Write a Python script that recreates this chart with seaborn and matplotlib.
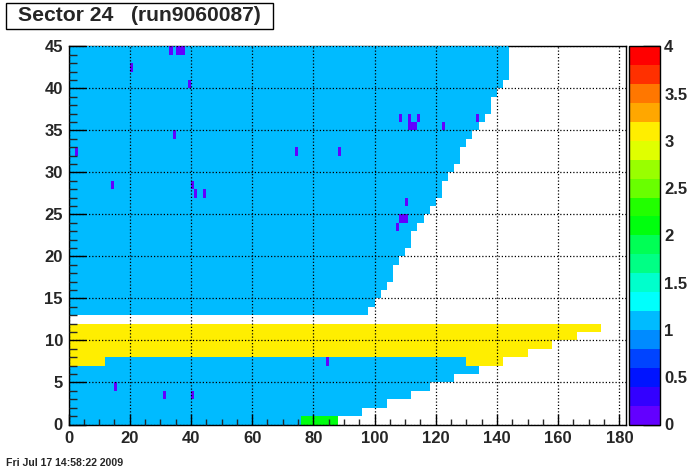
import colorsys
import numpy as np
import pandas as pd
import matplotlib
matplotlib.use("Agg")
import matplotlib.pyplot as plt
from matplotlib.colors import ListedColormap
from matplotlib.patches import Rectangle
import seaborn as sns

# pads per padrow (y bins 0..12 inner, 13..44 outer)
inner_pads = [88, 96, 104, 112, 118, 126, 134, 142, 150, 158, 166, 174, 182]
outer_pads = [98, 100, 102, 104, 106, 106, 108, 110, 112, 112, 114, 116, 118, 120,
              122, 122, 124, 126, 128, 128, 130, 132, 134, 136, 138, 138, 140, 142,
              144, 144, 144, 144]
inner_level = [1, 1, 1, 1, 1, 1, 1, 1, 3, 3, 3, 3, None]
outer_level = 1

# row 7: mixed yellow / blue segments (start, stop, value)
row7_segments = [(0, 12, 3), (12, 130, 1), (130, 142, 3)]
# hot pads in row 0
green_row, green_x0, green_x1, green_value = 0, 76, 88, 2
# dead pads (x, y)
dead_x = [33, 35, 36, 37, 20, 39, 108, 111, 114, 133, 111, 112, 113, 122, 34, 2, 74,
          88, 14, 40, 41, 44, 110, 108, 109, 110, 107, 84, 15, 31, 40]
dead_y = [44, 44, 44, 44, 42, 40, 36, 36, 36, 36, 35, 35, 35, 35, 34, 32, 32,
          32, 28, 28, 27, 27, 26, 24, 24, 24, 23, 7, 4, 3, 3]

title = "Sector 24   (run9060087)"
stamp = "Fri Jul 17 14:58:22 2009"
n_x, n_y = 182, 45
zmin, zmax, n_levels = 0, 4, 20


def build_grid():
    grid = np.full((n_y, n_x), np.nan)
    for row, (npad, lev) in enumerate(zip(inner_pads, inner_level)):
        if lev is not None:
            grid[row, :npad] = lev
    for i, npad in enumerate(outer_pads):
        grid[len(inner_pads) + i, :npad] = outer_level
    for a, b, v in row7_segments:
        grid[7, a:b] = v
    grid[green_row, green_x0:green_x1] = green_value
    for x, y in zip(dead_x, dead_y):
        grid[y, x] = 0
    return pd.DataFrame(grid)


def root_palette():
    """ROOT 'pretty' palette picked at 20 contour levels."""
    cols = []
    for k in range(n_levels):
        i = int((k + 0.99) * 50 / n_levels)
        hue = 280 - (i + 1) * 280 / 50
        cols.append(colorsys.hls_to_rgb(hue / 360.0, 0.5, 1.0))
    return ListedColormap(cols)


sns.set_style("white")
plt.rcParams["font.family"] = ["Liberation Sans", "DejaVu Sans"]
plt.rcParams["font.weight"] = "bold"

W, H = 696, 472
fig = plt.figure(figsize=(W / 100, H / 100), dpi=100)
ax = fig.add_axes([68.5 / W, 1 - 424.5 / H, (625.5 - 68.5) / W, (424.5 - 46.3) / H])
cax = fig.add_axes([629 / W, 1 - 424.5 / H, 31 / W, (424.5 - 46.3) / H])

df = build_grid()
sns.heatmap(df, ax=ax, cbar_ax=cax, cmap=root_palette(), vmin=zmin, vmax=zmax,
            xticklabels=False, yticklabels=False, linewidths=0)

ax.set_xlim(0, n_x)
ax.set_ylim(0, n_y)
for s in ax.spines.values():
    s.set_visible(True)
    s.set_color("black")
    s.set_linewidth(1)
ax.spines["top"].set_zorder(0.5)

ax.set_xticks(range(0, 181, 20))
ax.set_xticklabels([str(v) for v in range(0, 181, 20)])
ax.set_xticks(range(0, 183, 5), minor=True)
ax.set_yticks(range(0, 46, 5))
ax.set_yticklabels([str(v) for v in range(0, 46, 5)])
ax.set_yticks(range(0, 46, 1), minor=True)
ax.tick_params(axis="x", which="major", direction="in", length=8, width=1,
               bottom=True, top=False, pad=5, labelsize=12, color="black")
ax.tick_params(axis="x", which="minor", direction="in", length=4, width=1,
               bottom=True, top=False)
ax.tick_params(axis="y", which="major", direction="in", length=12, width=1,
               left=True, right=False, pad=4, labelsize=12, color="black",
               labelrotation=0)
ax.tick_params(axis="y", which="minor", direction="in", length=6, width=1,
               left=True, right=False)
for lab in ax.get_xticklabels() + ax.get_yticklabels():
    lab.set_fontweight("bold")
ax.set_xlabel("")
ax.set_ylabel("")
ax.set_axisbelow(False)
ax.grid(True, which="major", color="black", linestyle=(0, (1, 1.6)), linewidth=0.9)

cb = ax.collections[0].colorbar
cb.set_ticks(np.arange(0, 4.01, 0.5))
cb.set_ticklabels(["0", "0.5", "1", "1.5", "2", "2.5", "3", "3.5", "4"])
cb.outline.set_edgecolor("black")
cb.outline.set_linewidth(1)
cax.tick_params(axis="y", which="major", direction="in", length=12, width=1,
                right=True, left=False, pad=3, labelsize=12, color="black")
cax.minorticks_off()
for lab in cax.get_yticklabels():
    lab.set_fontweight("bold")

fig.patches.append(Rectangle((6 / W, 1 - 28.5 / H), 266.5 / W, 26 / H,
                             transform=fig.transFigure, facecolor="white",
                             edgecolor="black", linewidth=1))
fig.text(139.5 / W, 1 - 15.8 / H, title, ha="center", va="center",
         fontsize=15.2, fontweight="bold")
fig.text(6 / W, 1 - 462.5 / H, stamp, ha="left", va="center",
         fontsize=7.6, fontweight="bold")

fig.savefig("out.png", dpi=100)
